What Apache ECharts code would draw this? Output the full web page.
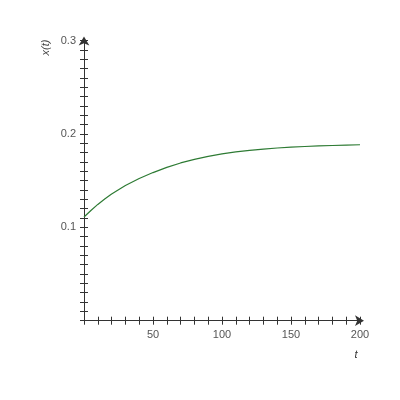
<!DOCTYPE html>
<html>
<head>
<meta charset="utf-8">
<script src="https://cdn.jsdelivr.net/npm/echarts@6/dist/echarts.min.js"></script>
<style>html,body{margin:0;padding:0;background:#fff}#c{width:400px;height:400px}</style>
</head>
<body>
<div id="c"></div>
<script>
const tValues = [0, 5, 10, 15, 20, 30, 40, 50, 60, 70, 80, 90, 100, 110, 120, 130, 140, 150, 160, 170, 180, 190, 200];
const xValues = [0.111, 0.118, 0.1245, 0.1303, 0.1356, 0.1447, 0.1522, 0.1586, 0.1642, 0.1689, 0.1728, 0.176, 0.1786, 0.1807, 0.1824, 0.1838, 0.1849, 0.1858, 0.1865, 0.1871, 0.1876, 0.188, 0.1884];
const xTickLabels = [50, 100, 150, 200];
const yTickLabels = [0.1, 0.2, 0.3];
const xName = 't';
const yName = 'x(t)';

const G = {left: 84, right: 40, top: 40.5, bottom: 79.3};
const gw = 400 - G.left - G.right, gh = 400 - G.top - G.bottom;
const axisCol = '#333';
const fam = 'Liberation Sans, Arial, sans-serif';
const lblFont = {color: '#555', fontSize: 11, fontFamily: fam};

const chart = echarts.init(document.getElementById('c'), null, {renderer: 'canvas'});
const xBase = {type: 'value', min: 0, max: 200, interval: 10, splitLine: {show: false}};
const yBase = {type: 'value', min: 0, max: 0.3, interval: 0.01, splitLine: {show: false}};
chart.setOption({
  animation: false,
  grid: {left: G.left, right: G.right, top: G.top, bottom: G.bottom, containLabel: false},
  graphic: [
    {type: 'text', x: 45.5, y: 47.5, rotation: Math.PI / 2,
     style: {text: yName, fill: '#444', font: 'italic 11px ' + fam, align: 'center', verticalAlign: 'middle'}},
    {type: 'text', x: 356, y: 355,
     style: {text: xName, fill: '#333', font: 'italic 11px ' + fam, align: 'center', verticalAlign: 'middle'}}
  ],
  xAxis: [
    Object.assign({}, xBase, {
      position: 'bottom',
      axisLine: {onZero: false, lineStyle: {color: axisCol, width: 1}, symbol: ['none', 'arrow'], symbolSize: [8, 9], symbolOffset: [0, 4]},
      axisTick: {show: true, length: 4, lineStyle: {color: axisCol}},
      axisLabel: Object.assign({}, lblFont, {margin: 9, formatter: v => xTickLabels.indexOf(Math.round(v)) >= 0 ? String(Math.round(v)) : ''})
    }),
    Object.assign({}, xBase, {
      position: 'top', offset: -gh,
      axisLine: {onZero: false, show: false},
      axisTick: {show: true, length: 4, lineStyle: {color: axisCol}},
      axisLabel: {show: false}
    })
  ],
  yAxis: [
    Object.assign({}, yBase, {
      position: 'left',
      axisLine: {onZero: false, lineStyle: {color: axisCol, width: 1}, symbol: ['none', 'arrow'], symbolSize: [8, 9], symbolOffset: [0, 4]},
      axisTick: {show: true, length: 4, lineStyle: {color: axisCol}},
      axisLabel: Object.assign({}, lblFont, {margin: 8, formatter: v => { const r = Math.round(v * 100) / 100; return yTickLabels.indexOf(r) >= 0 ? r.toFixed(1) : ''; }})
    }),
    Object.assign({}, yBase, {
      position: 'right', offset: -gw,
      axisLine: {onZero: false, show: false},
      axisTick: {show: true, length: 4, lineStyle: {color: axisCol}},
      axisLabel: {show: false}
    })
  ],
  series: [{
    type: 'line',
    xAxisIndex: 0, yAxisIndex: 0,
    data: tValues.map((t, i) => [t, xValues[i]]),
    smooth: false,
    showSymbol: false,
    lineStyle: {color: '#2e7b34', width: 1.2},
    silent: true
  }]
});
</script>
</body>
</html>
